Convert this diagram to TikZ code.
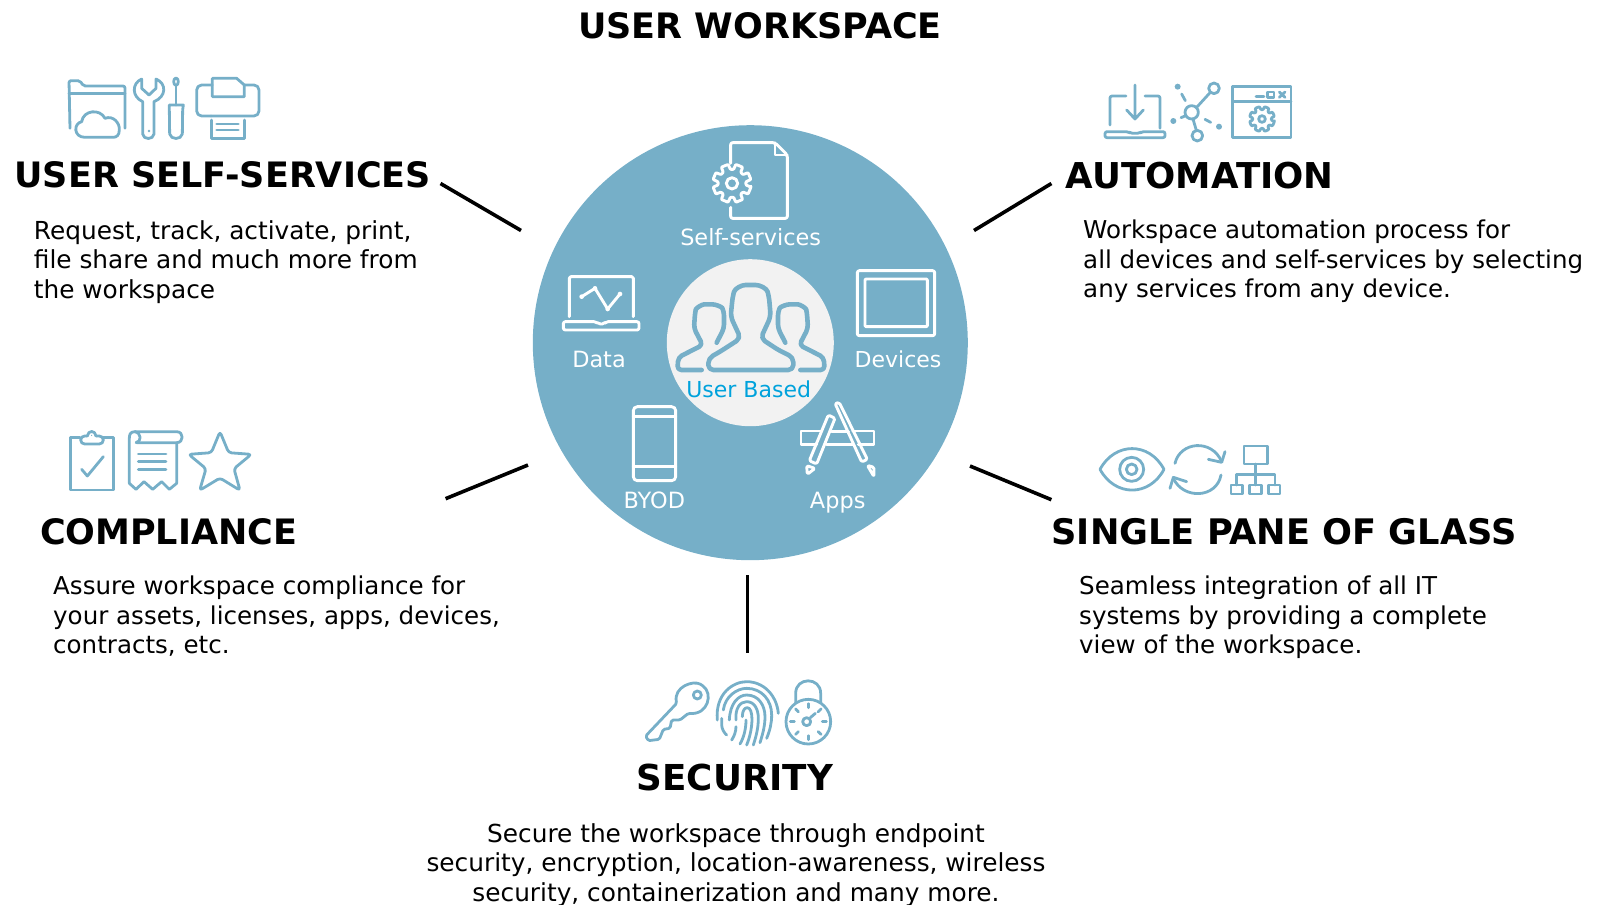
\documentclass[tikz,border=0pt]{standalone}
\usepackage{fontspec}
\setmainfont{DejaVu Sans}
\definecolor{teal}{HTML}{76AFC8}
\definecolor{inner}{HTML}{F2F2F2}
\definecolor{ubased}{HTML}{00A2DC}
\newcommand{\gearicon}[5]{% cx cy R r hole
  \begin{scope}[shift={(#1,#2)}]
  \draw[rounded corners=0.8pt] (-11+22.5:#3)
    \foreach \a in {22.5,67.5,...,337.5}{ -- ({\a-11}:#3) -- ({\a+11}:#3) -- ({\a+16}:#4) -- ({\a+29}:#4)} -- cycle;
  \draw (0,0) circle[radius=#5];
  \end{scope}}
\tikzset{
  lead/.style={line width=3.6pt,black},
  head/.style={font=\fontsize{35}{42}\selectfont\bfseries,inner sep=0pt},
  body/.style={font=\fontsize{24.8}{29.5}\selectfont,inner sep=0pt,align=left,anchor=north west},
  bodyb/.style={body,font=\fontsize{24.55}{29.5}\selectfont},
  lab/.style={font=\fontsize{22.4}{26}\selectfont,inner sep=0pt,white},
  labb/.style={lab,font=\fontsize{22}{26}\selectfont},
  ic/.style={draw=teal,line width=2.8pt,line cap=round,line join=round},
  wh/.style={draw=white,line width=2.9pt,line cap=round,line join=round},
  zm/.style={x=0.33333pt,y=-0.33333pt}
}
\begin{document}
\begin{tikzpicture}[x=1pt,y=-1pt]
\useasboundingbox (0,0) rectangle (1599,905);
\node[circle,fill=teal,inner sep=0pt,minimum size=435pt] (disk) at (750.3,342.7) {};
\node[circle,fill=inner,inner sep=0pt,minimum size=167pt] (core) at (750.3,342.7) {};
% leaders
\coordinate (a1) at (440.5,183.5); \coordinate (a2) at (521,230.5);
\coordinate (b1) at (1051.4,183.5); \coordinate (b2) at (974,230.5);
\coordinate (c1) at (528,465); \coordinate (c2) at (445.6,498.7);
\coordinate (d1) at (970,466); \coordinate (d2) at (1051.4,499.7);
\coordinate (e1) at (747.5,575); \coordinate (e2) at (747.5,652.7);
\draw[lead] (a1)--(a2); \draw[lead] (b1)--(b2); \draw[lead] (c1)--(c2); \draw[lead] (d1)--(d2); \draw[lead] (e1)--(e2);
% texts
\node[head] (title) at (760,25.5) {USER WORKSPACE};
\node[head,anchor=west] (h1) at (14.3,174.4) {USER SELF-SERVICES};
\node[head,anchor=west,font=\fontsize{35.6}{42}\selectfont\bfseries] (h2) at (1065.7,175.4) {AUTOMATION};
\node[head,anchor=west] (h3) at (39.8,531.5) {COMPLIANCE};
\node[head,anchor=west,font=\fontsize{35.2}{42}\selectfont\bfseries] (h4) at (1051.4,531.5) {SINGLE PANE OF GLASS};
\node[head,font=\fontsize{35.7}{42}\selectfont\bfseries] (h5) at (735,777.5) {SECURITY};
\node[body] (t1) at (33.7,220) {Request, track, activate, print,\\file share and much more from\\the workspace};
\node[bodyb] (t2) at (1083,220) {Workspace automation process for\\all devices and self-services by selecting\\any services from any device.};
\node[bodyb] (t3) at (53,576) {Assure workspace compliance for\\your assets, licenses, apps, devices,\\contracts, etc.};
\node[bodyb] (t4) at (1079,576) {Seamless integration of all IT\\systems by providing a complete\\view of the workspace.};
\node[body,align=center,anchor=north] (t5) at (736,823) {Secure the workspace through endpoint\\security, encryption, location-awareness, wireless\\security, containerization and many more.};
\node[lab] (l1) at (750.7,237.3) {Self-services};
\node[lab] (l2) at (599,359.3) {Data};
\node[labb] (l3) at (898,359.3) {Devices};
\node[lab] (l4) at (654.3,500) {BYOD};
\node[lab] (l5) at (837.7,503) {Apps};
\node[labb,text=ubased] (l6) at (748.7,389.3) {User Based};
% centre icons
\begin{scope}[shift={(520,120)},zm]
 \begin{scope}[wh]
 \draw[rounded corners=2pt] (632,130) -- (632,68) -- (765,68) -- (802,105) -- (802,295) -- (632,295) -- (632,262);
 \draw (765,68) -- (765,105) -- (802,105);
 \gearicon{636}{190}{58}{42}{17}
 \draw[rounded corners=1.5pt] (148,590) -- (148,470) -- (340,470) -- (340,590);
 \draw[rounded corners=2pt] (130,605) -- (228,605) -- (236,612) -- (252,612) -- (258,605) -- (357,605) -- (357,630) -- (130,630) -- cycle;
 \draw (185,530) -- (225,505) -- (263,567) -- (300,522);
 \fill[white] (185,530) circle[radius=7] (225,505) circle[radius=7] (263,567) circle[radius=7] (300,522) circle[radius=7];
 \draw[rounded corners=2pt] (1012,452) rectangle (1244,647);
 \draw[rounded corners=1pt] (1035,477) rectangle (1222,620);
 \draw[rounded corners=4pt] (340,860) rectangle (467,1082);
 \draw (340,890) -- (467,890) (340,1040) -- (467,1040);
 % apps
 \draw (902,933) -- (843,933) -- (843,973) -- (890,973);
 \draw (935,935) -- (985,935) (920,973) -- (1000,973);
 \draw (998,933) -- (1062,933) -- (1062,973) -- (1015,973);
 \draw[rounded corners=1.5pt] (925,885) -- (945,895) -- (890,1032) -- (868,1022) -- cycle;
 \draw[rounded corners=1.5pt] (860,1037) -- (885,1045) -- (862,1063) -- cycle;
 \draw[rounded corners=1.5pt] (945,850) -- (958,848) -- (1042,1018) -- (1025,1026) -- cycle;
 \draw[rounded corners=1.5pt] (1042,1036) -- (1062,1042) -- (1062,1070) -- cycle;
 \end{scope}
 % users
 \begin{scope}[ic,line width=4.6pt]
 \draw[rounded corners=5pt] (565,750) -- (565,715) -- (600,695) -- (662,655) -- (632,590) -- (638,530) .. controls (645,505) and (665,495) .. (692,495) .. controls (720,495) and (740,505) .. (747,530) -- (752,590) -- (722,655) -- (775,690) -- (820,712) -- (820,750) -- cycle;
 \draw[rounded corners=4pt] (590,668) -- (612,625) -- (612,575) .. controls (605,560) and (585,553) .. (565,553) .. controls (545,553) and (528,565) .. (525,580) -- (522,625) -- (548,675) -- (475,712) -- (472,750) -- (545,750);
 \draw[rounded corners=4pt] (796,668) -- (774,625) -- (774,575) .. controls (781,560) and (801,553) .. (821,553) .. controls (841,553) and (858,565) .. (861,580) -- (864,625) -- (838,675) -- (911,712) -- (914,750) -- (841,750);
 \end{scope}
\end{scope}
% self services icons
\begin{scope}[shift={(50,60)},zm,ic]
 \draw[rounded corners=2pt] (60,205) -- (57,62) -- (90,62) -- (100,78) -- (225,78) -- (225,205);
 \draw (57,100) -- (225,100);
 \draw[fill=white] (105,232) .. controls (70,232) and (70,190) .. (95,185) .. controls (100,150) and (150,145) .. (165,175) .. controls (190,165) and (210,190) .. (208,210) .. controls (208,225) and (200,232) .. (190,232) -- cycle;
 \draw (275,57) .. controls (245,70) and (245,110) .. (278,125) -- (278,222) .. controls (280,240) and (310,240) .. (312,222) -- (312,125) .. controls (350,110) and (350,70) .. (318,57) -- (318,85) -- (297,105) -- (275,85) -- cycle;
 \fill[teal] (297,213) circle[radius=4];
 \draw (378,65) ellipse[x radius=7,y radius=11];
 \draw (378,76) -- (378,135);
 \draw (358,135) -- (400,135) -- (398,150) -- (397,222) .. controls (393,240) and (363,240) .. (359,222) -- (358,150) -- cycle;
 \draw[rounded corners=5pt] (487,75) -- (440,75) -- (440,168) -- (483,168);
 \draw[rounded corners=5pt] (583,75) -- (627,75) -- (627,168) -- (483,168);
 \draw (487,110) -- (487,55) -- (560,55) -- (583,75) -- (583,110) -- cycle;
 \draw (485,180) -- (485,235) -- (583,235) -- (583,180);
 \draw (500,192) -- (565,192) (500,210) -- (565,210);
\end{scope}
% automation icons
\begin{scope}[shift={(1090,70)},zm,ic]
 \draw[rounded corners=2pt] (60,165) -- (60,78) -- (108,78);
 \draw[rounded corners=2pt] (165,78) -- (210,78) -- (210,175);
 \draw[rounded corners=2pt] (45,185) -- (115,185) -- (122,190) -- (148,190) -- (155,185) -- (225,185) -- (225,203) -- (45,203) -- cycle;
 \draw (135,45) -- (135,145) (110,120) -- (135,147) -- (160,120);
 \draw (305,127) circle[radius=20] (372,55) circle[radius=16] (322,197) circle[radius=16];
 \draw (320,112) -- (361,67) (309,147) -- (319,181);
 \fill[teal] (263,50) circle[radius=9] (250,153) circle[radius=9] (387,170) circle[radius=9];
 \draw (275,72) -- (286,92) (273,143) -- (285,138) (345,148) -- (362,157);
 \draw (428,50) rectangle (603,203);
 \draw (428,95) -- (603,95);
 \draw (498,80) -- (522,80);
 \draw (533,66) rectangle (552,82);
 \draw (568,66) -- (585,82) (585,66) -- (568,82);
 \gearicon{516}{147}{38}{28}{10}
\end{scope}
% compliance icons
\begin{scope}[shift={(50,420)},zm,ic]
 \draw (90,52) -- (62,52) -- (62,210) -- (190,210) -- (190,52) -- (160,52);
 \draw[rounded corners=4pt] (112,48) -- (92,48) -- (92,72) -- (160,72) -- (160,48) -- (138,48);
 \draw (112,48) .. controls (114,30) and (136,30) .. (138,48);
 \fill[teal] (125,46) circle[radius=2];
 \draw (95,148) -- (112,168) -- (160,110);
 \draw (255,35) -- (380,35) .. controls (402,35) and (402,68) .. (380,68) -- (260,68);
 \draw (255,35) .. controls (240,35) and (238,45) .. (238,55) -- (238,190) -- (258,208) -- (282,185) -- (308,208) -- (335,185) -- (358,208) -- (380,190) -- (380,70);
 \draw (255,35) .. controls (275,40) and (275,65) .. (258,68);
 \draw (265,102) -- (348,102) (265,125) -- (348,125) (265,148) -- (348,148);
 \draw[rounded corners=3pt] (510,35) -- (536,98) -- (604,103) -- (552,146) -- (570,211) -- (510,174) -- (449,211) -- (468,146) -- (416,103) -- (484,98) -- cycle;
\end{scope}
% single pane icons
\begin{scope}[shift={(1090,430)},zm,ic]
 \draw (30,118) .. controls (75,35) and (178,35) .. (222,118) .. controls (178,201) and (75,201) .. cycle;
 \draw (125,118) circle[radius=36] (125,118) circle[radius=16];
 \draw (255,100) .. controls (270,35) and (365,25) .. (395,95);
 \draw (405,65) -- (395,97) -- (355,88);
 \draw (393,135) .. controls (380,205) and (280,210) .. (250,145);
 \draw (240,175) -- (250,142) -- (290,155);
 \draw (462,48) rectangle (533,102);
 \draw (497,102) -- (497,165) (440,165) -- (440,133) -- (555,133) -- (555,165);
 \draw (423,165) rectangle (458,192) (478,165) rectangle (515,192) (535,165) rectangle (570,192);
\end{scope}
% security icons
\begin{scope}[shift={(630,670)},zm,ic]
 \draw[rounded corners=1.5pt] (47,198) -- (140,100) .. controls (130,50) and (190,30) .. (215,45) .. controls (250,70) and (235,135) .. (175,130) -- (150,150) -- (125,150) -- (120,175) -- (100,178) -- (88,208) -- (55,212) -- cycle;
 \draw (202,75) circle[radius=12];
 \draw (262,150) .. controls (255,70) and (310,35) .. (350,35) .. controls (400,35) and (440,75) .. (445,130);
 \draw (280,120) .. controls (285,80) and (320,55) .. (350,55) .. controls (395,55) and (425,90) .. (425,135) .. controls (425,160) and (420,180) .. (410,205);
 \draw (275,145) -- (275,165) .. controls (276,178) and (282,188) .. (290,195);
 \draw (298,150) .. controls (300,100) and (325,75) .. (350,75) .. controls (385,75) and (405,105) .. (405,140) .. controls (405,170) and (397,195) .. (390,218);
 \draw (318,150) .. controls (315,115) and (330,95) .. (350,95) .. controls (375,95) and (385,120) .. (385,145) .. controls (385,175) and (378,200) .. (370,225);
 \draw (337,140) .. controls (337,120) and (345,113) .. (352,113) .. controls (362,113) and (366,130) .. (366,150) .. controls (365,180) and (358,205) .. (350,225);
 \draw (348,150) .. controls (348,180) and (340,205) .. (330,222);
 \draw (318,170) .. controls (318,185) and (312,200) .. (305,210);
 \draw (497,100) -- (497,70) .. controls (497,20) and (572,20) .. (572,70) -- (572,100);
 \draw[fill=white] (535,155) circle[radius=67];
 \foreach \a in {0,45,...,315}{ \draw ({535+42*cos(\a)},{155+42*sin(\a)}) -- ({535+54*cos(\a)},{155+54*sin(\a)}); }
 \draw (530,155) circle[radius=12];
 \draw (541,143) -- (556,130);
\end{scope}
\end{tikzpicture}
\end{document}
